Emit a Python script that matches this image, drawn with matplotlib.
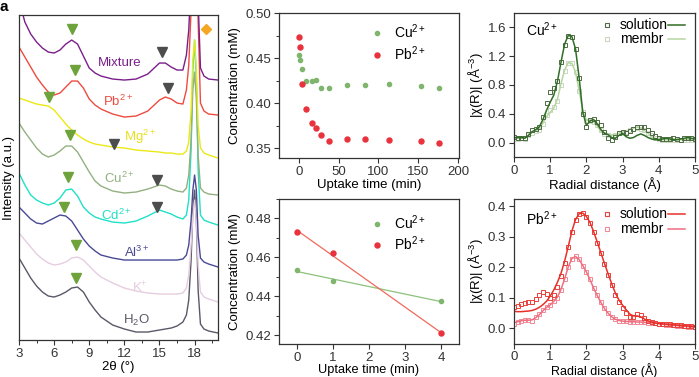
import numpy as np
import matplotlib.pyplot as plt
from matplotlib.ticker import AutoMinorLocator, MultipleLocator

plt.rcParams['font.family'] = ['Liberation Sans', 'DejaVu Sans']
plt.rcParams['mathtext.fontset'] = 'custom'
plt.rcParams['mathtext.rm'] = 'Liberation Sans'
plt.rcParams['mathtext.it'] = 'Liberation Sans:italic'
plt.rcParams['mathtext.default'] = 'regular'
plt.rcParams['font.size'] = 9.5
plt.rcParams['axes.edgecolor'] = '#333333'
plt.rcParams['xtick.color'] = '#333333'
plt.rcParams['ytick.color'] = '#333333'

# ---- (a) XRD patterns, stacked (arbitrary offset units) ----
two_theta = [3, 3.5, 4, 4.5, 5, 5.5, 6, 6.5, 7, 7.5, 8, 8.5, 9, 9.5, 10, 11, 12, 13, 14, 15,
             15.5, 16, 16.5, 17, 17.3, 17.5, 17.7, 17.85, 18, 18.15, 18.3, 18.5, 18.8, 19.2, 20]
xrd_mixture = [340, 318, 306, 298, 292, 288, 287, 290, 296, 300, 296, 284, 272, 267, 264, 261, 260, 261, 266, 277,
               277, 273, 270, 270, 285, 310, 360, 420, 450, 420, 340, 272, 264, 261, 260]
xrd_pb = [293, 283, 273, 263, 255, 248, 245, 247, 253, 259, 259, 252, 241, 235, 231, 226, 223, 224, 229, 240,
          243, 241, 237, 236, 250, 275, 330, 400, 430, 400, 320, 237, 229, 226, 225]
xrd_mg = [242, 240, 238, 236, 235, 234, 230, 223, 216, 210, 205, 201, 198, 196, 195, 193, 192, 190, 189, 188,
          187, 187, 186, 186, 189, 198, 230, 280, 300, 270, 215, 192, 187, 185, 182]
xrd_cu = [217, 208, 200, 192, 186, 183, 185, 189, 194, 194, 188, 178, 168, 159, 154, 149, 147, 148, 151, 155,
          154, 151, 149, 148, 152, 165, 200, 250, 268, 240, 185, 152, 148, 146, 145]
xrd_cd = [167, 155, 145, 140, 137, 135, 137, 142, 150, 151, 144, 133, 127, 123, 121, 118, 117, 119, 124, 130,
          128, 126, 123, 121, 125, 140, 190, 270, 300, 260, 170, 125, 120, 118, 115]
xrd_al = [133, 127, 121, 117, 116, 119, 122, 125, 124, 119, 110, 101, 94, 89, 85, 82, 80, 80, 80, 80,
          80, 80, 80, 81, 85, 95, 120, 150, 165, 150, 105, 82, 78, 76, 73]
xrd_k = [107, 100, 93, 86, 81, 77, 75, 76, 78, 82, 83, 80, 74, 68, 63, 57, 52, 49, 47, 46,
         46, 46, 46, 47, 52, 65, 95, 125, 140, 120, 75, 48, 43, 41, 38]
xrd_h2o = [82, 72, 62, 54, 48, 44, 43, 45, 48, 52, 53, 48, 38, 30, 23, 15, 11, 8, 8, 10,
           11, 12, 14, 18, 25, 40, 80, 130, 150, 120, 50, 16, 11, 9, 7]

xrd_names = ['Mixture', 'Pb$^{2+}$', 'Mg$^{2+}$', 'Cu$^{2+}$', 'Cd$^{2+}$', 'Al$^{3+}$', 'K$^{+}$', 'H$_2$O']
xrd_label_x = [11.6, 11.45, 13.3, 11.6, 11.35, 13.05, 13.3, 13.05]
xrd_label_y = [277, 239, 203, 162, 125, 88, 52, 20]
green_tri_x = [7.5, 7.8, 5.55, 7.35, 7.2, 6.85, 7.86, 7.83]
green_tri_y = [311, 270, 243, 205, 163, 133, 95, 62]
gray_tri_x = [15.2, 15.7, 11.1, 14.75, 14.75]
gray_tri_y = [288, 252, 196, 160, 133]

# ---- (b) uptake kinetics ----
t_min = [0, 1, 4, 9, 16, 21, 28, 38, 60, 83, 113, 153, 176]
conc_cu = [0.453, 0.448, 0.438, 0.425, 0.425, 0.426, 0.417, 0.417, 0.420, 0.420, 0.421, 0.419, 0.417]
conc_pb = [0.473, 0.462, 0.421, 0.393, 0.378, 0.372, 0.364, 0.358, 0.360, 0.360, 0.359, 0.358, 0.356]
t_early = [0, 1, 4]
cu_early = [0.4535, 0.4478, 0.4375]
pb_early = [0.473, 0.462, 0.421]

# ---- (c) EXAFS |chi(R)| ----
r_dist = [round(0.1 * i, 1) for i in range(51)]
cu_sol_data = [0.08, 0.07, 0.06, 0.07, 0.12, 0.17, 0.19, 0.22, 0.35, 0.55, 0.70, 0.76, 0.85, 1.12, 1.36, 1.48, 1.47,
               1.30, 0.90, 0.40, 0.22, 0.32, 0.33, 0.28, 0.24, 0.15, 0.07, 0.03, 0.08, 0.13, 0.15, 0.14, 0.16,
               0.19, 0.21, 0.22, 0.21, 0.18, 0.13, 0.09, 0.06, 0.05, 0.05, 0.05, 0.06, 0.05, 0.04, 0.06, 0.07,
               0.06, 0.05]
cu_sol_fit = [0.07, 0.07, 0.07, 0.06, 0.10, 0.15, 0.18, 0.22, 0.32, 0.45, 0.56, 0.66, 0.85, 1.12, 1.37, 1.49, 1.47,
              1.30, 0.90, 0.42, 0.24, 0.30, 0.32, 0.26, 0.18, 0.13, 0.11, 0.07, 0.06, 0.10, 0.13, 0.08, 0.06,
              0.07, 0.10, 0.12, 0.10, 0.07, 0.05, 0.04, 0.04, 0.05, 0.06, 0.05, 0.04, 0.04, 0.05, 0.06, 0.07,
              0.06, 0.05]
cu_mem_data = [0.05, 0.05, 0.06, 0.05, 0.10, 0.14, 0.16, 0.18, 0.26, 0.38, 0.45, 0.50, 0.58, 0.80, 1.00, 1.10, 1.10,
               0.98, 0.72, 0.42, 0.30, 0.30, 0.29, 0.24, 0.17, 0.12, 0.10, 0.09, 0.10, 0.13, 0.14, 0.15, 0.17,
               0.19, 0.20, 0.19, 0.17, 0.14, 0.10, 0.07, 0.05, 0.04, 0.03, 0.03, 0.04, 0.04, 0.04, 0.04, 0.04,
               0.03, 0.03]
cu_mem_fit = [0.06, 0.06, 0.06, 0.06, 0.10, 0.14, 0.17, 0.20, 0.27, 0.36, 0.42, 0.48, 0.60, 0.82, 1.01, 1.11, 1.10,
              0.98, 0.72, 0.44, 0.31, 0.31, 0.29, 0.23, 0.16, 0.12, 0.11, 0.10, 0.11, 0.13, 0.15, 0.16, 0.18,
              0.20, 0.21, 0.20, 0.17, 0.13, 0.09, 0.06, 0.05, 0.04, 0.04, 0.03, 0.04, 0.04, 0.04, 0.04, 0.04,
              0.04, 0.03]
pb_sol_data = [0.070, 0.074, 0.078, 0.081, 0.085, 0.087, 0.095, 0.108, 0.118, 0.112, 0.100, 0.110, 0.135, 0.170,
               0.215, 0.265, 0.315, 0.355, 0.374, 0.376, 0.365, 0.345, 0.315, 0.280, 0.245, 0.210, 0.175, 0.140,
               0.110, 0.085, 0.065, 0.048, 0.036, 0.038, 0.045, 0.043, 0.033, 0.025, 0.020, 0.017, 0.015, 0.014,
               0.013, 0.012, 0.011, 0.010, 0.009, 0.008, 0.007, 0.006, 0.005]
pb_sol_fit = [0.055, 0.054, 0.054, 0.055, 0.056, 0.058, 0.062, 0.068, 0.077, 0.088, 0.105, 0.125, 0.150, 0.180,
              0.220, 0.268, 0.318, 0.356, 0.375, 0.377, 0.366, 0.346, 0.316, 0.282, 0.247, 0.212, 0.178, 0.145,
              0.115, 0.092, 0.075, 0.060, 0.046, 0.040, 0.040, 0.037, 0.030, 0.024, 0.020, 0.017, 0.015, 0.014,
              0.013, 0.012, 0.011, 0.010, 0.009, 0.008, 0.007, 0.006, 0.005]
pb_mem_data = [0.015, 0.020, 0.025, 0.027, 0.026, 0.025, 0.035, 0.045, 0.060, 0.070, 0.076, 0.088, 0.100, 0.125,
               0.160, 0.200, 0.228, 0.235, 0.225, 0.205, 0.185, 0.160, 0.132, 0.108, 0.085, 0.065, 0.050, 0.038,
               0.030, 0.025, 0.023, 0.022, 0.021, 0.021, 0.020, 0.020, 0.019, 0.018, 0.017, 0.016, 0.015, 0.013,
               0.011, 0.010, 0.009, 0.008, 0.007, 0.006, 0.005, 0.004, 0.003]
pb_mem_fit = [0.018, 0.021, 0.024, 0.026, 0.026, 0.027, 0.034, 0.044, 0.057, 0.068, 0.076, 0.088, 0.102, 0.127,
              0.162, 0.201, 0.228, 0.235, 0.225, 0.205, 0.184, 0.159, 0.131, 0.107, 0.084, 0.064, 0.049, 0.037,
              0.029, 0.025, 0.023, 0.022, 0.021, 0.021, 0.020, 0.020, 0.019, 0.018, 0.017, 0.016, 0.015, 0.013,
              0.011, 0.010, 0.009, 0.008, 0.007, 0.006, 0.005, 0.004, 0.003]

xrd_colors = ['#7a1f8a', '#ee4b3f', '#ece816', '#93b080', '#1fe0c8', '#4a4996', '#e6cde0', '#5a5868']
xrd_text_colors = ['#7a1f8a', '#ee4b3f', '#e8e020', '#93b080', '#1fe0c8', '#4a4996', '#e6cde0', '#5a5868']
tri_green = '#6da33a'
tri_gray = '#4d4d4d'

fig = plt.figure(figsize=(6.99, 3.77), dpi=100)


def style_axes(ax):
    for s in ax.spines.values():
        s.set_linewidth(0.9)
    ax.tick_params(direction='out', length=3.5, width=0.8, top=False, right=False, labelsize=9.5, pad=2)
    ax.tick_params(which='minor', direction='out', length=2, width=0.7, top=False, right=False)


# (a)
ax_a = fig.add_axes([0.0272, 0.0981, 0.2847, 0.862])
series = [xrd_mixture, xrd_pb, xrd_mg, xrd_cu, xrd_cd, xrd_al, xrd_k, xrd_h2o]
for ys, col in zip(series[::-1], xrd_colors[::-1]):
    ax_a.plot(two_theta, ys, color=col, lw=1.0)
for name, lx, ly, tc in zip(xrd_names, xrd_label_x, xrd_label_y, xrd_text_colors):
    ax_a.text(lx, ly, name, color=tc, ha='center', va='center', fontsize=9.5)
ax_a.plot(green_tri_x, green_tri_y, 'v', color=tri_green, ms=7, ls='none')
ax_a.plot(gray_tri_x, gray_tri_y, 'v', color=tri_gray, ms=7, ls='none')
ax_a.plot([18.95], [311], 'D', color='#f5a623', ms=5.5)
ax_a.set_xlim(3, 20)
ax_a.set_ylim(0, 325)
ax_a.set_yticks([])
ax_a.xaxis.set_major_locator(MultipleLocator(3))
ax_a.xaxis.set_minor_locator(MultipleLocator(1.5))
style_axes(ax_a)
ax_a.set_xlabel('2θ (°)', labelpad=1)
ax_a.set_ylabel('Intensity (a.u.)', labelpad=3)
fig.text(0.0, 1.0, 'a', fontsize=11, fontweight='bold', va='top', ha='left')

# (b) top
ax_b1 = fig.add_axes([0.399, 0.5809, 0.2575, 0.3846])
ax_b1.plot(t_min, conc_cu, 'o', color='#7fb56c', ms=3.0, label='Cu$^{2+}$')
ax_b1.plot(t_min, conc_pb, 'o', color='#e8323c', ms=3.6, label='Pb$^{2+}$')
ax_b1.set_xlim(-25, 201)
ax_b1.set_ylim(0.339, 0.50)
ax_b1.set_yticks([0.35, 0.40, 0.45, 0.50])
ax_b1.set_xticks([0, 50, 100, 150, 200])
ax_b1.yaxis.set_minor_locator(AutoMinorLocator(2))
style_axes(ax_b1)
ax_b1.set_xlabel('Uptake time (min)', labelpad=1)
ax_b1.set_ylabel('Concentration (mM)', labelpad=3)
ax_b1.legend(loc='upper right', frameon=False, handletextpad=0.6, handlelength=1.2,
             borderaxespad=0.3, labelspacing=0.2, fontsize=10, bbox_to_anchor=(0.87, 1.0))

# (b) bottom
ax_b2 = fig.add_axes([0.399, 0.0875, 0.2575, 0.3846])
t_line = np.array([0, 4])
for yy, col, lcol, lab, ms in [(cu_early, '#7fb56c', '#8cc27a', 'Cu$^{2+}$', 3.0),
                               (pb_early, '#e8323c', '#ef6a5c', 'Pb$^{2+}$', 3.6)]:
    k, b = np.polyfit(t_early, yy, 1)
    ax_b2.plot(t_line, k * t_line + b, color=lcol, lw=0.9)
    ax_b2.plot(t_early, yy, 'o', color=col, ms=ms, label=lab)
ax_b2.set_xlim(-0.5, 4.5)
ax_b2.set_ylim(0.4154, 0.49)
ax_b2.set_yticks([0.42, 0.44, 0.46, 0.48])
ax_b2.set_xticks([0, 1, 2, 3, 4])
ax_b2.yaxis.set_minor_locator(AutoMinorLocator(2))
style_axes(ax_b2)
ax_b2.set_xlabel('Uptake time (min)', labelpad=0, fontsize=9.2)
ax_b2.set_ylabel('Concentration (mM)', labelpad=3)
ax_b2.legend(loc='upper right', frameon=False, handletextpad=0.6, handlelength=1.2,
             borderaxespad=0.3, labelspacing=0.2, fontsize=10, bbox_to_anchor=(0.87, 0.97))


def exafs_panel(ax, sol_d, sol_f, mem_d, mem_f, c_sol_m, c_sol_l, c_mem_m, c_mem_l, ion, ypos, xl_size):
    ax.plot(r_dist, mem_d, 's', mfc='none', mec=c_mem_m, ms=2.4, mew=0.7)
    ax.plot(r_dist, mem_f, color=c_mem_l, lw=1.1)
    ax.plot(r_dist, sol_d, 's', mfc='none', mec=c_sol_m, ms=2.4, mew=0.7)
    ax.plot(r_dist, sol_f, color=c_sol_l, lw=1.1)
    tr = ax.transAxes
    for (lab, cm, cl, yy) in [('solution', c_sol_m, c_sol_l, ypos[0]), ('membr', c_mem_m, c_mem_l, ypos[1])]:
        ax.plot([0.512], [yy], 's', mfc='none', mec=cm, ms=3.2, mew=0.8, transform=tr)
        ax.text(0.585, yy, lab, transform=tr, va='center', ha='left', fontsize=10)
        ax.plot([0.85, 0.945], [yy, yy], color=cl, lw=1.1, transform=tr)
    ax.text(0.065, ypos[0] - 0.035, ion, transform=tr, va='center', ha='left', fontsize=10)
    ax.set_xlim(0, 5)
    ax.set_xticks([0, 1, 2, 3, 4, 5])
    style_axes(ax)
    ax.set_xlabel('Radial distance (Å)', labelpad=0, fontsize=xl_size)
    ax.set_ylabel('|$\\chi$(R)| (Å$^{-3}$)', labelpad=2)


ax_c1 = fig.add_axes([0.7353, 0.5836, 0.259, 0.382])
exafs_panel(ax_c1, cu_sol_data, cu_sol_fit, cu_mem_data, cu_mem_fit,
            '#4f6a45', '#2f6e25', '#c9d6c2', '#b5d6a0', 'Cu$^{2+}$', (0.917, 0.82), 9.5)
ax_c1.set_ylim(-0.2, 1.8)
ax_c1.set_yticks([0.0, 0.4, 0.8, 1.2, 1.6])
ax_c1.set_yticklabels(['0.0', '0.4', '0.8', '1.2', '1.6'])

ax_c2 = fig.add_axes([0.7353, 0.0875, 0.259, 0.3846])
exafs_panel(ax_c2, pb_sol_data, pb_sol_fit, pb_mem_data, pb_mem_fit,
            '#e8413a', '#e8302a', '#f08a9a', '#f06e7e', 'Pb$^{2+}$', (0.897, 0.793), 9.0)
ax_c2.set_ylim(-0.052, 0.423)
ax_c2.set_yticks([0.0, 0.1, 0.2, 0.3, 0.4])
ax_c2.tick_params(axis='x', pad=1.5)

fig.savefig('out.png', dpi=100)
